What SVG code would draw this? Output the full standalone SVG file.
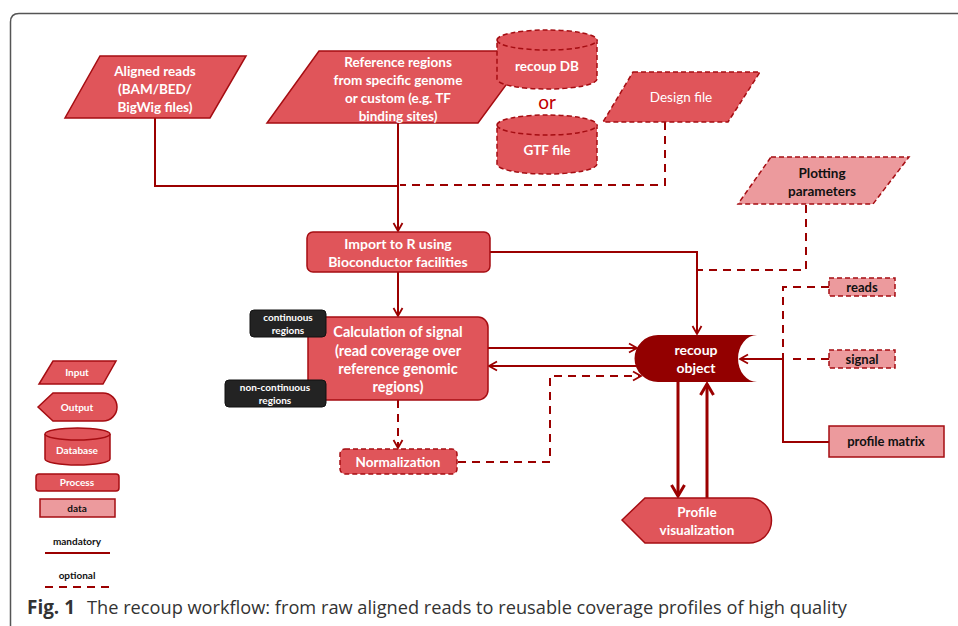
<svg xmlns="http://www.w3.org/2000/svg" width="958" height="626" viewBox="0 0 958 626">
<style>
.n{fill:#e0555a;stroke:#a50d12;stroke-width:1.5}
.p{fill:#ec9a9d;stroke:#a50d12;stroke-width:1.5}
.d{stroke-dasharray:5 3}
.t{font-family:Lato,"Open Sans","Liberation Sans",sans-serif;font-weight:bold;fill:#fff;text-anchor:middle}
.k{fill:#111}
.c{fill:none;stroke:#9b0000;stroke-width:2}
.cd{stroke-dasharray:8 6}
.th{stroke-width:3}
</style>
<defs>
<marker id="a" markerUnits="userSpaceOnUse" markerWidth="12" markerHeight="12" refX="10" refY="6" orient="auto">
<path d="M2,1.5 L10,6 L2,10.5" fill="none" stroke="#9b0000" stroke-width="1.8"/>
</marker>
<marker id="ab" markerUnits="userSpaceOnUse" markerWidth="16" markerHeight="16" refX="13" refY="8" orient="auto">
<path d="M2,1.5 L13,8 L2,14.5" fill="none" stroke="#9b0000" stroke-width="3"/>
</marker>
</defs>
<rect width="958" height="626" fill="#fff"/>
<path d="M10.5,626 V22 Q10.5,13.5 19,13.5 H958" fill="none" stroke="#555" stroke-width="1.5"/>

<g id="connectors">
<path class="c" d="M155,118 V186 H398"/>
<path class="c" d="M398,123 V231" marker-end="url(#a)"/>
<path class="c cd" d="M665,122 V185 H400"/>
<path class="c" d="M490,252 H697 V334" marker-end="url(#a)"/>
<path class="c cd" d="M806,205 V270 H697"/>
<path class="c" d="M398,272 V316" marker-end="url(#a)"/>
<path class="c" d="M488,348 H637" marker-end="url(#a)"/>
<path class="c" d="M636,366 H489" marker-end="url(#a)"/>
<path class="c cd" d="M398,400 V448" marker-end="url(#a)"/>
<path class="c cd" d="M458,462 H550 V376 H641" marker-end="url(#a)"/>
<path class="c th" d="M678,382 V496" marker-end="url(#ab)"/>
<path class="c th" d="M707,498 V384" marker-end="url(#ab)"/>
<path class="c" d="M829,442 H783 V359 H740" marker-end="url(#a)"/>
<path class="c cd" d="M829,287 H783 V359"/>
<path class="c cd" d="M829,359 H787"/>
</g>

<g id="aligned-reads">
<polygon class="n" points="100,56 246,56 210,118 65,118"/>
<text class="t" font-size="13.5"><tspan x="155" y="76">Aligned reads</tspan><tspan x="155" y="94">(BAM/BED/</tspan><tspan x="155" y="112">BigWig files)</tspan></text>
</g>

<g id="reference-regions">
<polygon class="n" points="319,51 531,51 478,123 267,123"/>
<text class="t" font-size="13.5"><tspan x="398" y="67">Reference regions</tspan><tspan x="398" y="85">from specific genome</tspan><tspan x="398" y="103">or custom (e.g. TF</tspan><tspan x="398" y="121">binding sites)</tspan></text>
</g>

<g id="recoup-db">
<path class="n d" d="M497,40 A50,10 0 0 1 597,40 V79 A50,10 0 0 1 497,79 Z"/>
<path class="n d" d="M497,40 A50,10 0 0 0 597,40" fill="none"/>
<text class="t" font-size="13.5" x="547" y="71">recoup DB</text>
</g>

<text x="547" y="109" font-family="Lato,'Open Sans','Liberation Sans',sans-serif" font-size="19" fill="#c00000" text-anchor="middle">or</text>

<g id="gtf-file">
<path class="n d" d="M497,125 A50,10 0 0 1 597,125 V164 A50,10 0 0 1 497,164 Z"/>
<path class="n d" d="M497,125 A50,10 0 0 0 597,125" fill="none"/>
<text class="t" font-size="13.5" x="547" y="155">GTF file</text>
</g>

<g id="design-file">
<polygon class="n d" points="633,72 760,72 728,122 603,122"/>
<text class="t" font-size="13.5" font-weight="normal" x="681" y="102" style="font-weight:normal">Design file</text>
</g>

<g id="plotting-parameters">
<polygon class="p d" points="771,157 909,157 873,204 738,204"/>
<text class="t k" font-size="13.5"><tspan x="822" y="178">Plotting</tspan><tspan x="822" y="196">parameters</tspan></text>
</g>

<g id="import">
<rect class="n" x="307" y="232" width="183" height="40" rx="6"/>
<text class="t" font-size="14"><tspan x="398" y="249">Import to R using</tspan><tspan x="398" y="267">Bioconductor facilities</tspan></text>
</g>

<g id="calculation">
<rect class="n" x="308" y="317" width="180" height="83" rx="10"/>
<text class="t" font-size="14.5"><tspan x="398" y="337">Calculation of signal</tspan><tspan x="398" y="356">(read coverage over</tspan><tspan x="398" y="374">reference genomic</tspan><tspan x="398" y="392">regions)</tspan></text>
</g>

<g id="continuous-regions">
<rect x="250" y="310" width="76" height="27" rx="4" fill="#232323" stroke="#111" stroke-width="1"/>
<text class="t" font-size="10"><tspan x="288" y="321">continuous</tspan><tspan x="288" y="334">regions</tspan></text>
</g>

<g id="non-continuous-regions">
<rect x="225" y="380" width="101" height="27" rx="4" fill="#232323" stroke="#111" stroke-width="1"/>
<text class="t" font-size="10"><tspan x="275" y="391">non-continuous</tspan><tspan x="275" y="404">regions</tspan></text>
</g>

<g id="normalization">
<rect class="n d" x="340" y="449" width="117" height="25" rx="5"/>
<text class="t" font-size="13.5" x="398" y="467">Normalization</text>
</g>

<g id="recoup-object">
<path d="M658,335 H757 A19,23.5 0 0 0 757,382 H658 A23.5,23.5 0 0 1 658,335 Z" fill="#930000"/>
<text class="t" font-size="14"><tspan x="696" y="355">recoup</tspan><tspan x="696" y="373">object</tspan></text>
</g>

<g id="profile-visualization">
<path class="n" d="M622,520 L645,498 H749 A22.5,22.5 0 0 1 749,543 H645 Z"/>
<text class="t" font-size="13.5"><tspan x="697" y="517">Profile</tspan><tspan x="697" y="535">visualization</tspan></text>
</g>

<g id="reads">
<rect class="p d" x="829" y="278" width="66" height="18"/>
<text class="t k" font-size="13" x="862" y="292">reads</text>
</g>

<g id="signal">
<rect class="p d" x="829" y="350" width="66" height="18"/>
<text class="t k" font-size="13" x="862" y="364">signal</text>
</g>

<g id="profile-matrix">
<rect class="p" x="829" y="426" width="115" height="31"/>
<text class="t k" font-size="13" x="886" y="446">profile matrix</text>
</g>

<g id="legend">
<polygon class="n" points="53,361 116,361 103,384 39,384"/>
<text class="t" font-size="10" x="77" y="376">Input</text>
<path class="n" d="M38,407 L53,393 H103 A14,14 0 0 1 103,421 H53 Z"/>
<text class="t" font-size="10" x="77" y="411">Output</text>
<path class="n" d="M45,434 A32.5,6 0 0 1 110,434 V459 A32.5,6 0 0 1 45,459 Z"/>
<path class="n" d="M45,434 A32.5,6 0 0 0 110,434" fill="none"/>
<text class="t" font-size="10" x="77" y="454">Database</text>
<rect class="n" x="36" y="474" width="83" height="17" rx="3"/>
<text class="t" font-size="10" x="77" y="486">Process</text>
<rect class="p" x="40" y="499" width="75" height="18"/>
<text class="t k" font-size="10" x="77" y="512">data</text>
<text class="t k" font-size="10" x="77" y="545">mandatory</text>
<path class="c" d="M45,553 H110"/>
<text class="t k" font-size="10" x="77" y="579">optional</text>
<path class="c" d="M45,587 H110" stroke-dasharray="8 6"/>
</g>

<text x="27" y="614" font-family="'Open Sans',Lato,'Liberation Sans',sans-serif" font-size="19" fill="#333"><tspan font-weight="bold" textLength="48" lengthAdjust="spacingAndGlyphs">Fig. 1</tspan><tspan x="87" textLength="760" lengthAdjust="spacingAndGlyphs">The recoup workflow: from raw aligned reads to reusable coverage profiles of high quality</tspan></text>
</svg>
